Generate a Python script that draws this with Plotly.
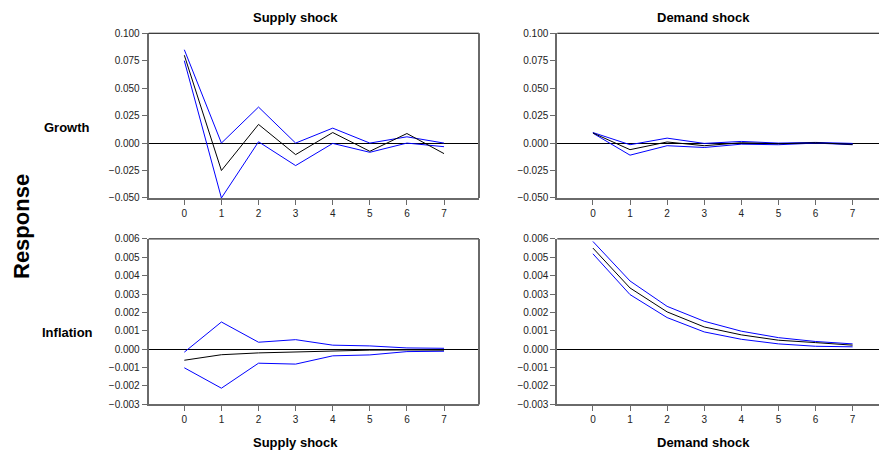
import plotly.graph_objects as go

W, H = 879, 454

periods = [0, 1, 2, 3, 4, 5, 6, 7]

# Growth response to supply shock
growth_supply = [0.080, -0.025, 0.017, -0.0105, 0.0096, -0.0075, 0.0087, -0.0096]
growth_supply_hi = [0.085, 0.000, 0.0328, 0.000, 0.0136, 0.000, 0.0057, 0.000]
growth_supply_lo = [0.075, -0.050, 0.0012, -0.0205, -0.0003, -0.0084, 0.000, -0.0033]

# Growth response to demand shock
growth_demand = [0.0092, -0.006, 0.001, -0.0024, 0.0003, -0.0006, 0.0003, -0.0012]
growth_demand_hi = [0.0096, -0.0015, 0.0045, -0.0003, 0.0015, 0.000, 0.0006, -0.0003]
growth_demand_lo = [0.0090, -0.011, -0.0024, -0.004, -0.001, -0.0015, 0.000, -0.0015]

# Inflation response to supply shock
infl_supply = [-0.0006, -0.0003, -0.0002, -0.00015, -0.00007, -0.00005, -0.00004, -0.00005]
infl_supply_hi = [-0.00016, 0.00148, 0.00038, 0.00052, 0.00022, 0.00018, 0.00007, 0.00005]
infl_supply_lo = [-0.00101, -0.00212, -0.00076, -0.00081, -0.00036, -0.00031, -0.00013, -0.00011]

# Inflation response to demand shock
infl_demand = [0.0055, 0.00333, 0.00203, 0.00121, 0.00078, 0.00049, 0.00036, 0.00022]
infl_demand_hi = [0.00586, 0.00371, 0.00233, 0.00152, 0.00098, 0.00063, 0.00042, 0.00029]
infl_demand_lo = [0.00519, 0.00297, 0.00172, 0.00094, 0.00054, 0.00029, 0.00016, 0.00013]

col_titles = ["Supply shock", "Demand shock"]
row_titles = ["Growth", "Inflation"]
y_label = "Response"

FONT = "Liberation Sans, Arial, sans-serif"
AXC = "#6a6a6a"

# pixel geometry (page coordinates)
unit = 37.1
left_x0 = [148.7, 557.3]
panel_right = [479.0, 879.0]
top_y = [28.0, 239.2]
bot_y = [197.2, 409.2]


def px(x):
    return x / W


def py(y):
    return 1 - y / H


fig = go.Figure()

panels = [
    (0, 0, growth_supply, growth_supply_hi, growth_supply_lo),
    (0, 1, growth_demand, growth_demand_hi, growth_demand_lo),
    (1, 0, infl_supply, infl_supply_hi, infl_supply_lo),
    (1, 1, infl_demand, infl_demand_hi, infl_demand_lo),
]

yranges = [[-0.05, 0.1], [-0.003, 0.006]]
ydticks = [0.025, 0.001]

shapes = []
for idx, (r, c, mid, hi, lo) in enumerate(panels):
    n = idx + 1
    xa = "x" if n == 1 else f"x{n}"
    ya = "y" if n == 1 else f"y{n}"
    for vals, colr in [(hi, "#0000ff"), (lo, "#0000ff"), (mid, "#000000")]:
        fig.add_trace(go.Scatter(x=periods, y=vals, mode="lines",
                                 line=dict(color=colr, width=1),
                                 xaxis=xa, yaxis=ya, showlegend=False,
                                 hoverinfo="skip"))
    x0 = left_x0[c]
    x1 = panel_right[c]
    xr0 = -0.96
    xr1 = xr0 + (x1 - x0) / unit
    xd = [px(x0), min(px(x1), 1.0)]
    yd = [py(bot_y[r]), py(top_y[r])]
    xkey = "xaxis" if n == 1 else f"xaxis{n}"
    ykey = "yaxis" if n == 1 else f"yaxis{n}"
    fig.update_layout(**{
        xkey: dict(domain=xd, range=[xr0, xr1], anchor=ya,
                   tickmode="array", tickvals=periods,
                   ticktext=[str(p) for p in periods],
                   ticks="outside", ticklen=5, tickcolor=AXC, tickwidth=1,
                   showline=True, linecolor=AXC, linewidth=2,
                   showgrid=False, zeroline=False,
                   tickfont=dict(family=FONT, size=10, color="#222222")),
        ykey: dict(domain=yd, range=yranges[r], anchor=xa,
                   tickmode="linear", tick0=yranges[r][0], dtick=ydticks[r],
                   tickformat=".3f",
                   ticks="outside", ticklen=5, tickcolor=AXC, tickwidth=1,
                   showline=True, linecolor=AXC, linewidth=2,
                   showgrid=False, zeroline=True, zerolinecolor="#000000",
                   zerolinewidth=1,
                   tickfont=dict(family=FONT, size=10, color="#222222")),
    })
    shapes.append(dict(type="line", xref="paper", yref="paper",
                       x0=xd[0], x1=xd[1], y0=yd[1], y1=yd[1],
                       line=dict(color="#000000", width=1)))
    if c == 0:
        shapes.append(dict(type="line", xref="paper", yref="paper",
                           x0=xd[1], x1=xd[1], y0=yd[0], y1=yd[1],
                           line=dict(color=AXC, width=2)))

annotations = []
for c in range(2):
    cx = px(left_x0[c] + 146.3)
    for yy in (11.9, 448.1):
        annotations.append(dict(text=f"<b>{col_titles[c]}</b>", x=cx, y=py(yy),
                                xref="paper", yref="paper", showarrow=False,
                                xanchor="center", yanchor="middle",
                                font=dict(family=FONT, size=13, color="#000000")))
for r, yy in enumerate([124.5, 335.0]):
    annotations.append(dict(text=f"<b>{row_titles[r]}</b>", x=px(67), y=py(yy),
                            xref="paper", yref="paper", showarrow=False,
                            xanchor="center", yanchor="middle",
                            font=dict(family=FONT, size=13, color="#000000")))
annotations.append(dict(text=f"<b>{y_label}</b>", x=px(21), y=py(227),
                        xref="paper", yref="paper", showarrow=False, textangle=-90,
                        xanchor="center", yanchor="middle",
                        font=dict(family=FONT, size=22, color="#000000")))

fig.update_layout(width=W, height=H, margin=dict(l=0, r=0, t=0, b=0),
                  paper_bgcolor="#ffffff", plot_bgcolor="#ffffff",
                  shapes=shapes, annotations=annotations, showlegend=False)

# remove the page's default body margin so the figure fills the window exactly
fig.write_html("out.html",
               config={"displayModeBar": False},
               post_script="document.body.style.margin='0';"
                           "document.body.style.overflow='hidden';")
